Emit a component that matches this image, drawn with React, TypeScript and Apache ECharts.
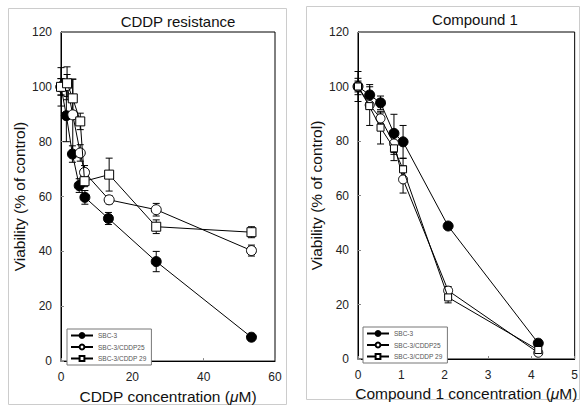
import React, { useEffect, useRef } from "react";
import * as echarts from "echarts";

// ---- CDDP resistance panel (x: CDDP concentration, µM) ----
const cddpXSbc3 = [0, 1.5, 3.2, 5.1, 6.7, 13.3, 26.7, 53.4];
const cddpYSbc3 = [100, 89.5, 75.5, 64, 59.7, 52, 36.3, 8.7];
const cddpESbc3 = [3, 9.5, 3, 2.5, 2.5, 2.2, 3.7, 0.5];

const cddpXR25 = [0, 1.7, 3.3, 5.4, 6.6, 13.5, 26.7, 53.4];
const cddpYR25 = [100, 100.5, 89.8, 75.9, 68.8, 58.8, 55.2, 40.3];
const cddpER25 = [3, 4, 13, 3, 2.5, 1.5, 2.3, 2];

const cddpXR29 = [0, 1.7, 3.3, 5.4, 6.6, 13.5, 26.7, 53.4];
const cddpYR29 = [100, 101.3, 95.8, 87.4, 65.6, 68, 49, 47];
const cddpER29 = [7, 6, 7, 3, 2, 6, 2.5, 2];

// ---- Compound 1 panel (x: Compound 1 concentration, µM) ----
const cmpXSbc3 = [0, 0.27, 0.52, 0.83, 1.04, 2.08, 4.16];
const cmpYSbc3 = [100, 96.9, 94, 82.8, 79.7, 48.8, 5.8];
const cmpESbc3 = [2, 3, 2.5, 7, 6, 1, 1];

const cmpXR25 = [0, 0.27, 0.52, 0.83, 1.04, 2.08, 4.16];
const cmpYR25 = [100, 93.2, 88.3, 79.1, 65.9, 25.1, 2.3];
const cmpER25 = [3, 7.5, 2, 4, 5, 1.5, 0.5];

const cmpXR29 = [0, 0.26, 0.52, 0.83, 1.04, 2.08, 4.16];
const cmpYR29 = [100, 92.8, 84.9, 77.3, 69.6, 22.6, 3.3];
const cmpER29 = [5.5, 1, 6, 4.5, 4, 2, 1];

const seriesNames = ["SBC-3", "SBC-3/CDDP25", "SBC-3/CDDP 29"];
const titles = ["CDDP resistance", "Compound 1"];
const yTicks = [0, 20, 40, 60, 80, 100, 120];

const FONT = "'Liberation Sans', Arial, Helvetica, sans-serif";

const zip = (xs: number[], ys: number[]) => xs.map((x, i) => [x, ys[i]]);
const zip3 = (xs: number[], ys: number[], es: number[]) =>
  xs.map((x, i) => [x, ys[i], es[i]]);

const markerStyles = [
  { symbol: "circle", color: "#000", border: "#000" },
  { symbol: "circle", color: "#fff", border: "#000" },
  { symbol: "rect", color: "#fff", border: "#000" },
];

function errorSeries(data: number[][], axis: number) {
  return {
    type: "custom",
    xAxisIndex: axis,
    yAxisIndex: axis,
    z: 1,
    silent: true,
    data,
    renderItem: (params: any, api: any) => {
      const x = api.value(0);
      const y = api.value(1);
      const e = api.value(2);
      const top = api.coord([x, y + e]);
      const bot = api.coord([x, y - e]);
      const cw = 3.5;
      const st = { stroke: "#000", lineWidth: 1 };
      return {
        type: "group",
        children: [
          { type: "line", shape: { x1: top[0], y1: top[1], x2: bot[0], y2: bot[1] }, style: st },
          { type: "line", shape: { x1: top[0] - cw, y1: top[1], x2: top[0] + cw, y2: top[1] }, style: st },
          { type: "line", shape: { x1: bot[0] - cw, y1: bot[1], x2: bot[0] + cw, y2: bot[1] }, style: st },
        ],
      };
    },
  };
}

function lineSeries(name: string, data: number[][], axis: number, k: number, size: number) {
  const m = markerStyles[k];
  return {
    type: "line",
    name,
    xAxisIndex: axis,
    yAxisIndex: axis,
    z: 3 + k,
    data,
    symbol: m.symbol,
    symbolSize: size,
    showAllSymbol: true,
    lineStyle: { color: "#000", width: 1 },
    itemStyle: { color: m.color, borderColor: m.border, borderWidth: 1 },
  };
}

export default function App() {
  const ref = useRef<HTMLDivElement>(null);
  useEffect(() => {
    document.body.style.margin = "0";
    if (!ref.current) return;
    const chart = echarts.init(ref.current, null, { renderer: "svg" });

    const axisCommon = {
      axisLine: { show: true, lineStyle: { color: "#000", width: 1 } },
      axisTick: { show: true, inside: true, length: 3, lineStyle: { color: "#888" } },
      splitLine: { show: false },
      axisLabel: { color: "#222", fontSize: 12, fontFamily: FONT },
      nameTextStyle: {
        color: "#111",
        fontSize: 15.5,
        fontFamily: FONT,
        rich: { i: { fontStyle: "italic", fontSize: 15.5, fontFamily: FONT, color: "#111" } },
      },
      nameLocation: "middle",
    };

    const legendCommon = {
      orient: "vertical",
      data: seriesNames,
      itemWidth: 22,
      itemHeight: 6,
      itemGap: 4.5,
      padding: [3, 5, 3, 3],
      borderColor: "#777",
      borderWidth: 1,
      backgroundColor: "#fff",
      textStyle: { fontSize: 6.5, color: "#555", fontFamily: FONT },
      selectedMode: false,
    };

    const option: any = {
      animation: false,
      title: [
        { text: titles[0], left: 173, top: 9, textAlign: "center", textStyle: { fontSize: 15, fontWeight: "normal", color: "#111", fontFamily: FONT } },
        { text: titles[1], left: 470, top: 7, textAlign: "center", textStyle: { fontSize: 15, fontWeight: "normal", color: "#111", fontFamily: FONT } },
      ],
      graphic: [
        { type: "rect", shape: { x: 8.5, y: 8.5, width: 278, height: 396 }, style: { fill: "none", stroke: "#ccc", lineWidth: 1 }, z: -10 },
        { type: "rect", shape: { x: 306.5, y: 6.5, width: 273, height: 393 }, style: { fill: "none", stroke: "#ccc", lineWidth: 1 }, z: -10 },
      ],
      grid: [
        { left: 61, top: 32, width: 214, height: 330, show: true, borderColor: "#000", borderWidth: 1, backgroundColor: "transparent" },
        { left: 358, top: 32, width: 219, height: 327, show: true, borderColor: "#000", borderWidth: 1, backgroundColor: "transparent" },
      ],
      xAxis: [
        { ...axisCommon, type: "value", gridIndex: 0, min: 0, max: 60, interval: 20, name: "CDDP concentration ({i|μ}M)", nameGap: 22, axisLabel: { ...axisCommon.axisLabel, margin: 10 } },
        { ...axisCommon, type: "value", gridIndex: 1, min: 0, max: 5, interval: 1, name: "Compound 1 concentration ({i|μ}M)", nameGap: 26, axisLabel: { ...axisCommon.axisLabel, margin: 10 } },
      ],
      yAxis: [
        { ...axisCommon, type: "value", gridIndex: 0, min: yTicks[0], max: yTicks[yTicks.length - 1], interval: 20, name: "Viability (% of control)", nameGap: 34, axisLabel: { ...axisCommon.axisLabel, margin: 9 } },
        { ...axisCommon, type: "value", gridIndex: 1, min: yTicks[0], max: yTicks[yTicks.length - 1], interval: 20, name: "Viability (% of control)", nameGap: 34, axisLabel: { ...axisCommon.axisLabel, margin: 9 } },
      ],
      legend: [
        { ...legendCommon, left: 67, top: 329 },
        { ...legendCommon, left: 363, top: 327 },
      ],
      series: [
        errorSeries(zip3(cddpXSbc3, cddpYSbc3, cddpESbc3), 0),
        errorSeries(zip3(cddpXR25, cddpYR25, cddpER25), 0),
        errorSeries(zip3(cddpXR29, cddpYR29, cddpER29), 0),
        errorSeries(zip3(cmpXSbc3, cmpYSbc3, cmpESbc3), 1),
        errorSeries(zip3(cmpXR25, cmpYR25, cmpER25), 1),
        errorSeries(zip3(cmpXR29, cmpYR29, cmpER29), 1),
        lineSeries(seriesNames[0], zip(cddpXSbc3, cddpYSbc3), 0, 0, 10),
        lineSeries(seriesNames[1], zip(cddpXR25, cddpYR25), 0, 1, 10),
        lineSeries(seriesNames[2], zip(cddpXR29, cddpYR29), 0, 2, 9),
        lineSeries(seriesNames[0], zip(cmpXSbc3, cmpYSbc3), 1, 0, 10),
        lineSeries(seriesNames[1], zip(cmpXR25, cmpYR25), 1, 1, 9),
        lineSeries(seriesNames[2], zip(cmpXR29, cmpYR29), 1, 2, 7),
      ],
    };
    chart.setOption(option);
    return () => chart.dispose();
  }, []);
  return <div ref={ref} style={{ width: 581, height: 409 }} />;
}
